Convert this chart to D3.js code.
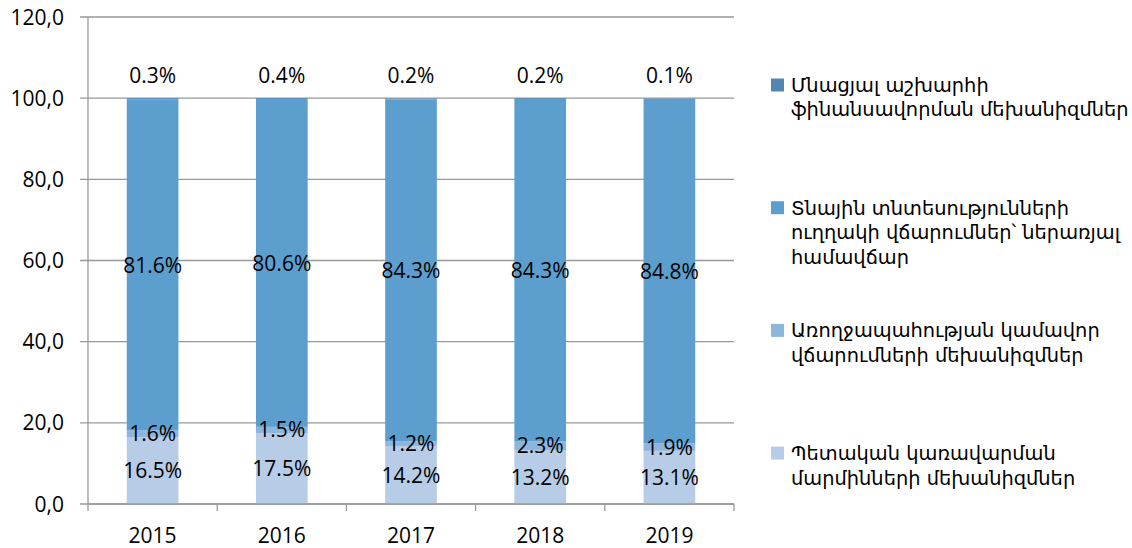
<!DOCTYPE html>
<html>
<head>
<meta charset="utf-8">
<script src="https://cdn.jsdelivr.net/npm/d3@7"></script>
<style>
  body { margin: 0; background: #fff; }
  text { fill: #000; }
</style>
</head>
<body>
<svg id="chart"></svg>
<script>
const width = 1132
const height = 548

// chart data
const years = ['2015', '2016', '2017', '2018', '2019'];
const government = [16.5, 17.5, 14.2, 13.2, 13.1];
const voluntary = [1.6, 1.5, 1.2, 2.3, 1.9];
const households = [81.6, 80.6, 84.3, 84.3, 84.8];
const restOfWorld = [0.3, 0.4, 0.2, 0.2, 0.1];

const seriesKeys = ['government', 'voluntary', 'households', 'restOfWorld'];
const seriesNames = {
  restOfWorld: ['Մնացյալ աշխարհի', 'ֆինանսավորման մեխանիզմներ'],
  households: ['Տնային տնտեսությունների', 'ուղղակի վճարումներ՝ ներառյալ', 'համավճար'],
  voluntary: ['Առողջապահության կամավոր', 'վճարումների մեխանիզմներ'],
  government: ['Պետական կառավարման', 'մարմինների մեխանիզմներ']
};
const colors = {
  government: '#b7cde7',
  voluntary: '#8db6de',
  households: '#5c9fcf',
  restOfWorld: '#5186b3'
};
const yTicks = [0, 20, 40, 60, 80, 100, 120];

const rows = years.map((y, i) => ({
  year: y,
  government: government[i],
  voluntary: voluntary[i],
  households: households[i],
  restOfWorld: restOfWorld[i]
}));

const plotLeft = 88, plotRight = 734, plotTop = 17, plotBottom = 504;
const numFont = '"Open Sans", sans-serif';

const svg = d3.select('#chart')
  .attr('width', width)
  .attr('height', height);

const x = d3.scaleBand()
  .domain(years)
  .range([plotLeft, plotRight])
  .paddingInner(0.6)
  .paddingOuter(0.3);

const y = d3.scaleLinear()
  .domain([0, 120])
  .range([plotBottom, plotTop]);

// gridlines
svg.append('g')
  .selectAll('line')
  .data(yTicks)
  .join('line')
  .attr('x1', plotLeft - 8)
  .attr('x2', plotRight)
  .attr('y1', d => y(d))
  .attr('y2', d => y(d))
  .attr('stroke', '#999')
  .attr('stroke-width', 1.3);

// y labels
svg.append('g')
  .selectAll('text')
  .data(yTicks)
  .join('text')
  .attr('x', 64)
  .attr('y', d => y(d))
  .attr('dy', '0.36em')
  .attr('text-anchor', 'end')
  .style('font-family', numFont)
  .style('font-size', '21px')
  .text(d => d3.format('.1f')(d).replace('.', ','));

// stacked bars
const stack = d3.stack().keys(seriesKeys)(rows);

svg.append('g')
  .selectAll('g')
  .data(stack)
  .join('g')
  .attr('fill', d => colors[d.key])
  .selectAll('rect')
  .data(d => d)
  .join('rect')
  .attr('x', d => x(d.data.year))
  .attr('width', x.bandwidth())
  .attr('y', d => y(d[1]))
  .attr('height', d => y(d[0]) - y(d[1]));

// axes lines
svg.append('line')
  .attr('x1', plotLeft).attr('x2', plotLeft)
  .attr('y1', plotTop).attr('y2', plotBottom)
  .attr('stroke', '#999').attr('stroke-width', 1.3);

svg.append('line')
  .attr('x1', plotLeft).attr('x2', plotRight)
  .attr('y1', plotBottom).attr('y2', plotBottom)
  .attr('stroke', '#999').attr('stroke-width', 1.3);

const boundaries = years.map(d => x(d) - x.step() * x.paddingOuter()).concat([plotRight]);
svg.append('g')
  .selectAll('line')
  .data(boundaries)
  .join('line')
  .attr('x1', d => d).attr('x2', d => d)
  .attr('y1', plotBottom).attr('y2', plotBottom + 7)
  .attr('stroke', '#999').attr('stroke-width', 1.3);

// year labels
svg.append('g')
  .selectAll('text')
  .data(years)
  .join('text')
  .attr('x', d => x(d) + x.bandwidth() / 2)
  .attr('y', 543)
  .attr('text-anchor', 'middle')
  .style('font-family', numFont)
  .style('font-size', '21px')
  .text(d => d);

// data labels, drawn above all bars
const labels = stack.flatMap(s => s.map(v => ({ key: s.key, lo: v[0], hi: v[1], year: v.data.year, value: v.data[s.key] })));

svg.append('g')
  .selectAll('text')
  .data(labels)
  .join('text')
  .attr('x', d => x(d.year) + x.bandwidth() / 2)
  .attr('y', d => d.key === 'restOfWorld' ? y(100) - 23 : (y(d.lo) + y(d.hi)) / 2)
  .attr('dy', '0.36em')
  .attr('text-anchor', 'middle')
  .style('font-family', numFont)
  .style('font-size', '21px')
  .text(d => d.value.toFixed(1) + '%');

// legend
const legendKeys = seriesKeys.slice().reverse();
const legend = svg.append('g')
  .selectAll('g')
  .data(legendKeys)
  .join('g')
  .attr('transform', (d, i) => `translate(771, ${85 + i * 122.7})`);

legend.append('rect')
  .attr('y', -6.5)
  .attr('width', 13)
  .attr('height', 13)
  .attr('fill', d => colors[d]);

legend.append('text')
  .style('font-family', '"DejaVu Sans", sans-serif')
  .style('font-size', '19.4px')
  .selectAll('tspan')
  .data(d => seriesNames[d])
  .join('tspan')
  .attr('x', 20)
  .attr('y', (d, i) => i * 24.5)
  .attr('dy', '0.36em')
  .text(d => d);
</script>
</body>
</html>
